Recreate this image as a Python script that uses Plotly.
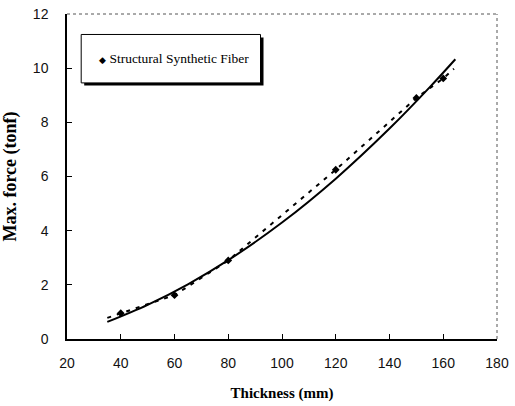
import plotly.graph_objects as go

# measured data (diamond markers)
thickness = [40, 60, 80, 120, 150, 160]
max_force = [0.95, 1.62, 2.90, 6.25, 8.90, 9.62]

# dashed line through the data (with its short end extensions)
dash_x = [35, 40, 60, 80, 120, 150, 160, 164]
dash_y = [0.78, 0.95, 1.62, 2.90, 6.25, 8.90, 9.62, 9.98]

# solid fitted curve
fit_x = [35, 50, 65, 80, 100, 120, 140, 155, 164.5]
fit_y = [0.63, 1.26, 2.02, 2.91, 4.30, 5.92, 7.77, 9.30, 10.33]

x_ticks = [20, 40, 60, 80, 100, 120, 140, 160, 180]
y_ticks = [0, 2, 4, 6, 8, 10, 12]

serif = "Liberation Serif, Times New Roman, serif"
sans = "Liberation Sans, Arial, sans-serif"

fig = go.Figure()
fig.add_trace(go.Scatter(x=fit_x, y=fit_y, mode="lines", line=dict(color="black", width=2, shape="spline"),
                         showlegend=False, hoverinfo="skip"))
fig.add_trace(go.Scatter(x=dash_x, y=dash_y, mode="lines", line=dict(color="black", width=2, dash="4px,6px"),
                         showlegend=False, hoverinfo="skip"))
fig.add_trace(go.Scatter(x=thickness, y=max_force, mode="markers", name="Structural Synthetic Fiber",
                         marker=dict(symbol="diamond", size=6, color="black"), showlegend=False))

fig.update_layout(
    width=515, height=406,
    margin=dict(l=67, r=18, t=14, b=67),
    paper_bgcolor="white", plot_bgcolor="white",
    xaxis=dict(range=[20, 180], tickvals=x_ticks, ticks="inside", ticklen=5, tickcolor="black",
               showline=True, linecolor="black", linewidth=1.5, showgrid=False, zeroline=False,
               automargin=False,
               tickfont=dict(family=sans, size=14, color="#111"), ticklabelstandoff=10,
               title=dict(text="<b>Thickness (mm)</b>", font=dict(family=serif, size=15, color="black"), standoff=18)),
    yaxis=dict(range=[0, 12], tickvals=y_ticks, ticks="inside", ticklen=5, tickcolor="black",
               showline=True, linecolor="black", linewidth=1.5, showgrid=False, zeroline=False,
               automargin=False,
               tickfont=dict(family=sans, size=14, color="#111"), ticklabelstandoff=14,
               title=dict(text="<b>Max. force (tonf)</b>", font=dict(family=serif, size=18, color="black"), standoff=14)),
    shapes=[
        dict(type="line", xref="paper", yref="paper", x0=0, x1=1, y0=1, y1=1,
             line=dict(color="#555", width=1, dash="dot")),
        dict(type="line", xref="paper", yref="paper", x0=1, x1=1, y0=0, y1=1,
             line=dict(color="#555", width=1, dash="dot")),
        # legend shadow
        dict(type="rect", xref="paper", yref="paper", x0=0.040, x1=0.457, y0=0.780, y1=0.928,
             fillcolor="black", line=dict(width=0)),
        # legend box
        dict(type="rect", xref="paper", yref="paper", x0=0.033, x1=0.450, y0=0.788, y1=0.937,
             fillcolor="white", line=dict(color="black", width=1)),
    ],
    annotations=[
        dict(xref="paper", yref="paper", x=0.07, y=0.862, xanchor="left", yanchor="middle",
             text="<span style='font-size:9px'>◆</span> Structural Synthetic Fiber", showarrow=False,
             font=dict(family=serif, size=13.5, color="black")),
    ],
)

fig.write_html("out.html")
